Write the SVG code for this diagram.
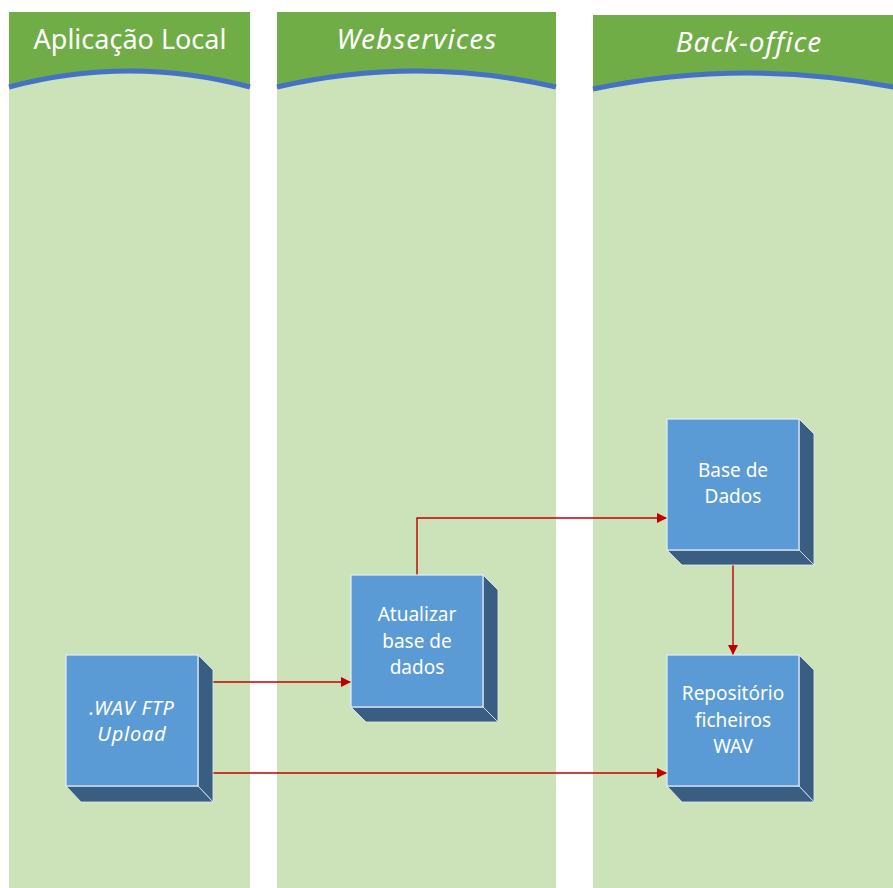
<svg xmlns="http://www.w3.org/2000/svg" width="893" height="888" viewBox="0 0 893 888">
  <defs>
    <style>
      .lane { fill: #CCE2B8; }
      .head { fill: #70AD47; }
      .rim { fill: none; stroke: #4472C4; stroke-width: 5; }
      .title { font-family: "Noto Sans", "Open Sans", sans-serif; font-size: 27px; fill: #FFFFFF; text-anchor: middle; }
      .title.it { font-size: 28px; letter-spacing: 1px; }
      .front { fill: #5B9BD5; stroke: #E4EEF8; stroke-width: 1.2; }
      .side { fill: #3A5E82; stroke: #E4EEF8; stroke-width: 0.8; }
      .label { font-family: "Noto Sans", "Open Sans", sans-serif; font-size: 19px; fill: #FFFFFF; text-anchor: middle; }
      .label.it { font-size: 20px; letter-spacing: 0.8px; }
      .it { font-style: italic; }
      .wire { fill: none; stroke: #C00000; stroke-width: 1.4; }
    </style>
    <marker id="arrow" viewBox="0 0 10 10" refX="10" refY="5" markerWidth="10" markerHeight="10" markerUnits="userSpaceOnUse" orient="auto">
      <path d="M0,0 L10,5 L0,10 Z" fill="#C00000"/>
    </marker>
  </defs>

  <rect width="893" height="888" fill="#FFFFFF"/>

  <!-- swimlanes -->
  <g id="lane-local">
    <rect class="lane" x="9" y="12" width="241" height="876"/>
    <path class="head" d="M9,12 H250 V87 Q129.5,55 9,87 Z"/>
    <path class="rim" d="M9,87 Q129.5,55 250,87"/>
    <text class="title" x="130" y="49">Aplicação Local</text>
  </g>
  <g id="lane-webservices">
    <rect class="lane" x="277" y="12" width="279" height="876"/>
    <path class="head" d="M277,12 H556 V87 Q416.5,55 277,87 Z"/>
    <path class="rim" d="M277,87 Q416.5,55 556,87"/>
    <text class="title it" x="417" y="49">Webservices</text>
  </g>
  <g id="lane-backoffice">
    <rect class="lane" x="593" y="15" width="310" height="873"/>
    <path class="head" d="M593,15 H903 V89 Q748,57 593,89 Z"/>
    <path class="rim" d="M593,89 Q748,57 903,89"/>
    <text class="title it" x="749" y="52">Back-office</text>
  </g>

  <!-- connectors -->
  <g id="connectors">
    <path class="wire" d="M213,682 H351" marker-end="url(#arrow)"/>
    <path class="wire" d="M213,773 H667" marker-end="url(#arrow)"/>
    <path class="wire" d="M417,575 V518 H667" marker-end="url(#arrow)"/>
    <path class="wire" d="M733,565 V655" marker-end="url(#arrow)"/>
  </g>

  <!-- nodes -->
  <g id="node-ftp-upload">
    <path class="side" d="M198,655 L213,670 L213,802 L198,786 Z"/>
    <path class="side" d="M66,786 L81,802 L213,802 L198,786 Z"/>
    <rect class="front" x="66" y="655" width="132" height="131"/>
    <text class="label it" x="132" y="715">.WAV FTP</text>
    <text class="label it" x="132" y="741">Upload</text>
  </g>
  <g id="node-atualizar">
    <path class="side" d="M483,575 L498,590 L498,722 L483,707 Z"/>
    <path class="side" d="M351,707 L366,722 L498,722 L483,707 Z"/>
    <rect class="front" x="351" y="575" width="132" height="132"/>
    <text class="label" x="417" y="621">Atualizar</text>
    <text class="label" x="417" y="648">base de</text>
    <text class="label" x="417" y="674">dados</text>
  </g>
  <g id="node-base-dados">
    <path class="side" d="M799,419 L814,434 L814,565 L799,550 Z"/>
    <path class="side" d="M667,550 L682,565 L814,565 L799,550 Z"/>
    <rect class="front" x="667" y="419" width="132" height="131"/>
    <text class="label" x="733" y="477">Base de</text>
    <text class="label" x="733" y="503">Dados</text>
  </g>
  <g id="node-repositorio">
    <path class="side" d="M799,655 L814,670 L814,802 L799,786 Z"/>
    <path class="side" d="M667,786 L682,802 L814,802 L799,786 Z"/>
    <rect class="front" x="667" y="655" width="132" height="131"/>
    <text class="label" x="733" y="700">Repositório</text>
    <text class="label" x="733" y="727">ficheiros</text>
    <text class="label" x="733" y="753">WAV</text>
  </g>
</svg>
